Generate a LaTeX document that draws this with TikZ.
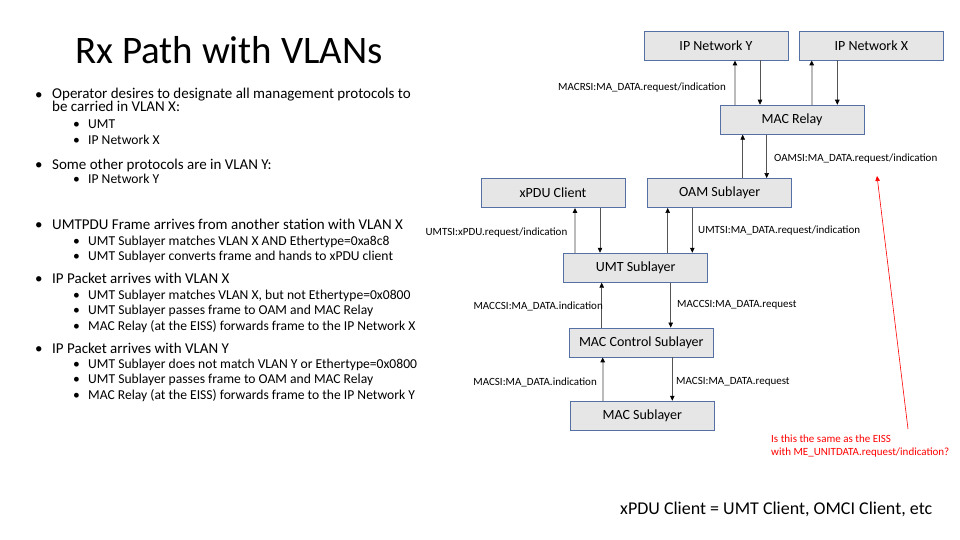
\documentclass[tikz,border=0pt]{standalone}
\usepackage{fontspec}
\setmainfont{Carlito}
\usetikzlibrary{arrows.meta}
\definecolor{boxfill}{HTML}{E7E6E6}
\definecolor{boxline}{HTML}{5470A4}
\definecolor{upline}{HTML}{BBBBBB}
\definecolor{downline}{HTML}{555555}
\begin{document}
\begin{tikzpicture}[x=1pt,y=-1pt,
  box/.style={draw=boxline,fill=boxfill,line width=0.9pt,minimum width=144pt,minimum height=29pt,inner sep=0pt,font=\fontsize{14}{16}\selectfont},
  uparrow/.style={draw=upline,line width=1.6pt,-{Triangle[length=5pt,width=4.5pt,color=black]}},
  downarrow/.style={draw=downline,line width=0.6pt,-{Triangle[length=5pt,width=4.5pt,color=black]}},
  lbl/.style={inner sep=0pt,font=\fontsize{11}{12}\selectfont},
  mainb/.style={inner sep=0pt,anchor=base west,font=\fontsize{15}{12}\selectfont},
  subb/.style={inner sep=0pt,anchor=base west,font=\fontsize{13.6}{14}\selectfont},
  redtxt/.style={inner sep=0pt,anchor=base west,text=red,font=\fontsize{11}{13}\selectfont}]
\useasboundingbox (0,0) rectangle (960,540);

% title
\node[inner sep=0pt,anchor=base west,font=\fontsize{39}{44}\selectfont] (title) at (75,64) {Rx Path with VLANs};

% left bullets
\node[mainb] (b1) at (35,100) {•};
\node[mainb,align=left] (t1) at (52,112) {Operator desires to designate all management protocols to\\be carried in VLAN X:};
\node[subb] (b1a) at (73,128.3) {•};
\node[subb] (t1a) at (88,128.3) {UMT};
\node[subb] (b1c) at (73,144.3) {•};
\node[subb] (t1c) at (88,144.3) {IP Network X};
\node[mainb] (b2) at (35,170) {•};
\node[mainb] (t2) at (52,170) {Some other protocols are in VLAN Y:};
\node[subb] (b2a) at (73,183.3) {•};
\node[subb] (t2a) at (88,183.3) {IP Network Y};

\node[mainb] (b3) at (35,229.3) {•};
\node[mainb] (t3) at (52,229.3) {UMTPDU Frame arrives from another station with VLAN X};
\node[subb] (b3a) at (73,245.3) {•};
\node[subb] (t3a) at (88,245.3) {UMT Sublayer matches VLAN X AND Ethertype=0xa8c8};
\node[subb] (b3b) at (73,260.7) {•};
\node[subb] (t3b) at (88,260.7) {UMT Sublayer converts frame and hands to xPDU client};

\node[mainb] (b4) at (35,283.3) {•};
\node[mainb] (t4) at (52,283.3) {IP Packet arrives with VLAN X};
\node[subb] (b4a) at (73,299.3) {•};
\node[subb] (t4a) at (88,299.3) {UMT Sublayer matches VLAN X, but not Ethertype=0x0800};
\node[subb] (b4b) at (73,314.3) {•};
\node[subb] (t4b) at (88,314.3) {UMT Sublayer passes frame to OAM and MAC Relay};
\node[subb] (b4c) at (73,330) {•};
\node[subb] (t4c) at (88,330) {MAC Relay (at the EISS) forwards frame to the IP Network X};

\node[mainb] (b5) at (35,353.3) {•};
\node[mainb] (t5) at (52,353.3) {IP Packet arrives with VLAN Y};
\node[subb] (b5a) at (73,368.3) {•};
\node[subb] (t5a) at (88,368.3) {UMT Sublayer does not match VLAN Y or Ethertype=0x0800};
\node[subb] (b5b) at (73,383.7) {•};
\node[subb] (t5b) at (88,383.7) {UMT Sublayer passes frame to OAM and MAC Relay};
\node[subb] (b5c) at (73,399.3) {•};
\node[subb] (t5c) at (88,399.3) {MAC Relay (at the EISS) forwards frame to the IP Network Y};

% boxes
\node[box] (ipy) at (716,45.5) {IP Network Y};
\node[box] (ipx) at (871.3,45.5) {IP Network X};
\node[box] (relay) at (792,119.7) {MAC Relay};
\node[box] (xpdu) at (553,193) {xPDU Client};
\node[box] (oam) at (719.7,193) {OAM Sublayer};
\node[box] (umt) at (635.7,267.7) {UMT Sublayer};
\node[box] (macc) at (641.3,342.5) {MAC Control Sublayer};
\node[box] (mac) at (642.3,415.7) {MAC Sublayer};

% connectors
\draw[uparrow] (735,0 |- relay.north) -- (735,0 |- ipy.south);
\draw[downarrow] (760,0 |- ipy.south) -- (760,0 |- relay.north);
\draw[uparrow] (811.7,0 |- relay.north) -- (811.7,0 |- ipx.south);
\draw[downarrow] (837.3,0 |- ipx.south) -- (837.3,0 |- relay.north);

\draw[uparrow,draw=downline,line width=0.6pt] (742.7,0 |- oam.north) -- (742.7,0 |- relay.south);
\draw[downarrow] (766.7,0 |- relay.south) -- (766.7,0 |- oam.north);

\draw[uparrow] (575,0 |- umt.north) -- (575,0 |- xpdu.south);
\draw[downarrow] (600,0 |- xpdu.south) -- (600,0 |- umt.north);
\draw[uparrow,draw=downline,line width=0.6pt] (667.7,0 |- umt.north) -- (667.7,0 |- oam.south);
\draw[downarrow] (692.3,0 |- oam.south) -- (692.3,0 |- umt.north);

\draw[uparrow,draw=downline,line width=0.6pt] (601.7,0 |- macc.north) -- (601.7,0 |- umt.south);
\draw[downarrow] (670.7,0 |- umt.south) -- (670.7,0 |- macc.north);

\draw[uparrow] (602.7,0 |- mac.north) -- (602.7,0 |- macc.south);
\draw[downarrow] (672.3,0 |- macc.south) -- (672.3,0 |- mac.north);

% labels
\node[lbl,anchor=base east] (l1) at (726,91) {MACRSI:MA\_DATA.request/indication};
\node[lbl,anchor=base west] (l2) at (774,162) {OAMSI:MA\_DATA.request/indication};
\node[lbl,anchor=base east] (l3) at (567.5,235.5) {UMTSI:xPDU.request/indication};
\node[lbl,anchor=base west] (l4) at (698,233) {UMTSI:MA\_DATA.request/indication};
\node[lbl,anchor=base east] (l5) at (603,309) {MACCSI:MA\_DATA.indication};
\node[lbl,anchor=base west] (l6) at (677,307) {MACCSI:MA\_DATA.request};
\node[lbl,anchor=base east] (l7) at (597,385) {MACSI:MA\_DATA.indication};
\node[lbl,anchor=base west] (l8) at (676,384) {MACSI:MA\_DATA.request};

% red note
\node[redtxt] (r1) at (771,442) {Is this the same as the EISS};
\node[redtxt] (r2) at (771,455) {with ME\_UNITDATA.request/indication?};
\coordinate (rs) at (908,429);
\coordinate (re) at (877,176);
\draw[red,line width=0.6pt,-{Triangle[length=5pt,width=4.5pt]}] (rs) -- (re);

% footer
\node[inner sep=0pt,anchor=base west,font=\fontsize{18}{20}\selectfont] (foot) at (620,514) {xPDU Client = UMT Client, OMCI Client, etc};
\end{tikzpicture}
\end{document}
